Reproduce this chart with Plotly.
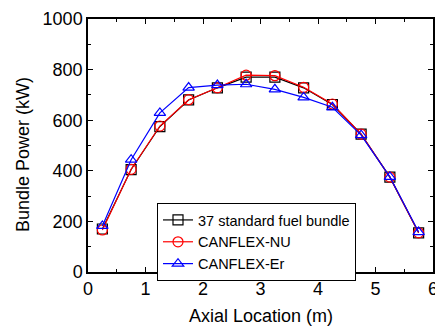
import plotly.graph_objects as go

x_loc = [0.25, 0.75, 1.25, 1.75, 2.25, 2.75, 3.25, 3.75, 4.25, 4.75, 5.25, 5.75]
std37 = [170, 405, 575, 680, 728, 770, 770, 728, 662, 545, 375, 155]
canflex_nu = [166, 406, 577, 681, 728, 778, 776, 730, 664, 545, 375, 155]
canflex_er = [182, 444, 629, 729, 739, 742, 722, 690, 651, 541, 376, 158]

names = ["37 standard fuel bundle", "CANFLEX-NU", "CANFLEX-Er"]
colors = ["#000000", "#ff0000", "#0000ff"]
symbols = ["square-open", "circle-open", "triangle-up-open"]
series = [std37, canflex_nu, canflex_er]

x_title = "Axial Location (m)"
y_title = "Bundle Power (kW)"

fig = go.Figure()
for name, ys, c, s in zip(names, series, colors, symbols):
    fig.add_trace(go.Scatter(
        x=x_loc, y=ys, name=name, mode="lines+markers",
        line=dict(color=c, width=1.2),
        marker=dict(symbol=s, size=10, color=c, line=dict(color=c, width=1.2)),
    ))

font = "Liberation Sans, Arial, sans-serif"
axis_common = dict(
    showline=True, linecolor="black", linewidth=1.5, mirror="allticks",
    ticks="inside", ticklen=5, tickwidth=1, tickcolor="black",
    showgrid=False, zeroline=False, automargin=False, ticklabeloverflow="allow",
    tickfont=dict(size=18, family=font, color="black"),
)
fig.update_layout(
    width=435, height=326,
    margin=dict(l=88, r=2, t=19, b=54),
    paper_bgcolor="white", plot_bgcolor="white",
    font=dict(family=font, color="black"),
    xaxis=dict(range=[0, 6], dtick=1,
               minor=dict(dtick=0.5, ticks="inside", ticklen=3, tickcolor="black"), **axis_common),
    yaxis=dict(range=[0, 1000], dtick=200,
               minor=dict(dtick=100, ticks="inside", ticklen=3, tickcolor="black"), **axis_common),
    legend=dict(x=0.2, y=(272 - 203) / 253, xanchor="left", yanchor="top", bgcolor="white",
                bordercolor="black", borderwidth=1, font=dict(size=14.5, family=font),
                tracegroupgap=0, itemwidth=30),
    showlegend=True,
    annotations=[
        dict(text=x_title, xref="paper", yref="paper", x=(261 - 88) / 345, y=-(316 - 272) / 253,
             xanchor="center", yanchor="middle", showarrow=False, font=dict(size=18, family=font)),
        dict(text=y_title, xref="paper", yref="paper", x=-(88 - 23) / 345, y=(272 - 155) / 253,
             xanchor="center", yanchor="middle", showarrow=False, textangle=-90,
             font=dict(size=18, family=font)),
    ],
)
fig.write_html("out.html", config={"displayModeBar": False},
               post_script="document.body.style.margin='0';document.body.style.overflow='hidden';")
